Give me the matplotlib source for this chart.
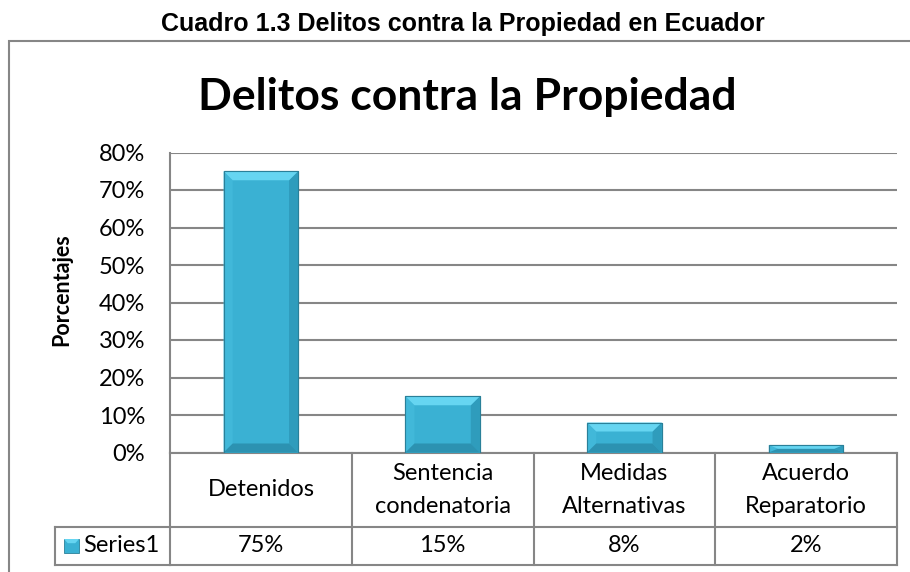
import matplotlib
matplotlib.use("Agg")
import matplotlib.pyplot as plt
from matplotlib.patches import Rectangle, Polygon
from matplotlib.transforms import blended_transform_factory
import numpy as np

categories = ["Detenidos", "Sentencia\ncondenatoria", "Medidas\nAlternativas", "Acuerdo\nReparatorio"]
values = [0.75, 0.15, 0.08, 0.02]
value_labels = ["75%", "15%", "8%", "2%"]
series_name = "Series1"
yticks = [0.0, 0.1, 0.2, 0.3, 0.4, 0.5, 0.6, 0.7, 0.8]

W, H = 910, 572
fig = plt.figure(figsize=(W / 100, H / 100), dpi=100)
FONT = "Lato"
GRAY = "#868686"
FS = 17

def fx(px):
    return px / W

def fy(py):
    return 1 - py / H

# outer chart border
fig.add_artist(Rectangle((fx(9), -0.05), 1.2, fy(41) + 0.05, transform=fig.transFigure,
                         fill=False, edgecolor=GRAY, lw=1.5))

fig.text(fx(463), fy(31), "Cuadro 1.3 Delitos contra la Propiedad en Ecuador",
         ha="center", va="baseline", fontsize=18, fontweight="bold", family="Liberation Sans")
fig.text(fx(467), fy(97), "Delitos contra la Propiedad", ha="center", va="center",
         fontsize=32, fontweight="bold", family=FONT)

ax = fig.add_axes([fx(170), 1 - 452.5 / H, 727 / W, 300 / H])
ax.set_xlim(-0.5, 3.5)
ax.set_ylim(0, 0.8)
ax.set_yticks(yticks)
ax.set_yticklabels([f"{int(round(t * 100))}%" for t in yticks], family=FONT, fontsize=FS)
ax.tick_params(axis="y", length=0, pad=18)
ax.set_xticks([])
for s in ["top", "right", "bottom"]:
    ax.spines[s].set_visible(False)
ax.spines["left"].set_color(GRAY)
ax.spines["left"].set_linewidth(1.5)
ax.grid(axis="y", color=GRAY, lw=1.5)
ax.set_axisbelow(True)
ax.set_ylabel("Porcentajes", family=FONT, fontsize=15.5, fontweight="bold")
ax.yaxis.set_label_coords((72 - 170) / 727, (452.5 - 290) / 300)

FACE = "#3AB1D3"
TOP = "#66D5F1"
LEFT = "#41B8D9"
RIGHT = "#2F9CBC"
BOT = "#2C92B1"
EDGE = "#2A8099"

bw = 0.41
bars = ax.bar(range(len(values)), values, width=bw, color=FACE, edgecolor=EDGE, lw=0.8, zorder=3)
bx = 0.05   # bevel in x data units
byu = 0.024  # bevel in y data units
for b in bars:
    x0, y0 = b.get_x(), b.get_y()
    w, h = b.get_width(), b.get_height()
    x1, y1 = x0 + w, y0 + h
    dy = min(byu, h / 2)
    dx = bx
    ax.add_patch(Polygon([(x0, y0), (x0 + dx, y0 + dy), (x0 + dx, y1 - dy), (x0, y1)],
                         closed=True, color=LEFT, lw=0, zorder=4))
    ax.add_patch(Polygon([(x1, y0), (x1 - dx, y0 + dy), (x1 - dx, y1 - dy), (x1, y1)],
                         closed=True, color=RIGHT, lw=0, zorder=4))
    ax.add_patch(Polygon([(x0, y0), (x1, y0), (x1 - dx, y0 + dy), (x0 + dx, y0 + dy)],
                         closed=True, color=BOT, lw=0, zorder=4))
    ax.add_patch(Polygon([(x0, y1), (x1, y1), (x1 - dx, y1 - dy), (x0 + dx, y1 - dy)],
                         closed=True, color=TOP, lw=0, zorder=4))
    ax.add_patch(Rectangle((x0, y0), w, h, fill=False, edgecolor=EDGE, lw=0.8, zorder=5))

# data table
tr = blended_transform_factory(ax.transData, ax.transAxes)
r1 = -74.5 / 300
r2 = -112.5 / 300
n = len(categories)
lk = dict(color=GRAY, lw=1.5, transform=tr, clip_on=False)
ax.plot([-0.5, n - 0.5], [0, 0], **lk)
ax.plot([-0.5, n - 0.5], [r1, r1], **lk)
ax.plot([-0.5, n - 0.5], [r2, r2], **lk)
for i in range(n + 1):
    ax.plot([i - 0.5, i - 0.5], [0, r2], **lk)
for i, (c, v) in enumerate(zip(categories, value_labels)):
    ax.text(i, r1 / 2, c, ha="center", va="center", transform=tr, family=FONT,
            fontsize=FS, linespacing=1.7)
    ax.text(i, (r1 + r2) / 2, v, ha="center", va="center", transform=tr, family=FONT,
            fontsize=FS)

# series header cell (left of axis)
tra = ax.transAxes
axw = 727
lx = (55 - 170) / axw
ax.plot([lx, 0], [r1, r1], color=GRAY, lw=1.5, transform=tra, clip_on=False)
ax.plot([lx, 0], [r2, r2], color=GRAY, lw=1.5, transform=tra, clip_on=False)
ax.plot([lx, lx], [r1, r2], color=GRAY, lw=1.5, transform=tra, clip_on=False)
kx0 = (64 - 170) / axw
kw = 15 / axw
kh = 14 / 300
ky = (r1 + r2) / 2 - kh / 2
ax.add_patch(Rectangle((kx0, ky), kw, kh, transform=tra, clip_on=False,
                       facecolor=FACE, edgecolor=EDGE, lw=0.6))
ax.add_patch(Polygon([(kx0, ky + kh), (kx0 + kw, ky + kh), (kx0 + kw * 0.75, ky + kh * 0.7),
                      (kx0 + kw * 0.25, ky + kh * 0.7)], closed=True, transform=tra,
                     clip_on=False, color=TOP, lw=0))
ax.text((83 - 170) / axw, (r1 + r2) / 2, series_name, ha="left", va="center",
        transform=tra, family=FONT, fontsize=FS)

fig.savefig("out.png", dpi=100)
